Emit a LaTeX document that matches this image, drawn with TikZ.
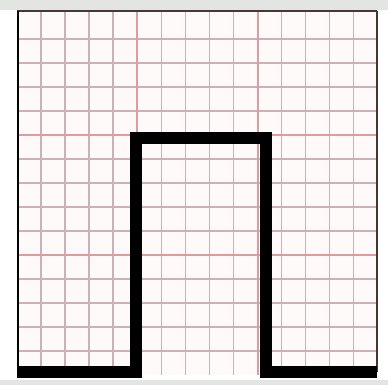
\documentclass[tikz,border=0pt]{standalone}
\definecolor{outgrey}{RGB}{226,229,226}
\definecolor{paper}{RGB}{255,250,250}
\definecolor{minorline}{RGB}{205,175,182}
\definecolor{majorline}{RGB}{224,155,162}
\definecolor{framedark}{RGB}{70,55,55}
\tikzset{
  minorgrid/.style={draw=minorline,line width=1.3pt},
  majorgrid/.style={draw=majorline,line width=2pt},
  frameline/.style={draw=framedark,line width=2pt},
  pulse/.style={draw=black,line width=12.5pt,line join=miter,line cap=butt}
}
\begin{document}
\begin{tikzpicture}[x=1pt,y=-1pt]
\useasboundingbox (0,0) rectangle (388,385);
\fill[white] (0,0) rectangle (388,385);
\fill[outgrey] (0,0) rectangle (388,10);
\fill[outgrey] (0,380) rectangle (388,385);
\fill[paper] (17,11) rectangle (377,375);
% minor grid
\foreach \i in {1,2,3,4,6,7,8,9,11,12,13,14} {
  \draw[minorgrid] ({16.8+24.07*\i},11) -- ({16.8+24.07*\i},375);
  \draw[minorgrid] (17,{15+24*\i}) -- (377,{15+24*\i});
}
% major grid
\foreach \i in {5,10} {
  \draw[majorgrid] ({16.8+24.07*\i},11) -- ({16.8+24.07*\i},375);
  \draw[majorgrid] (17,{15+24*\i}) -- (377,{15+24*\i});
}
% frame
\draw[frameline] (17,11) -- (377,11);
\draw[frameline,draw=black] (17.5,11) -- (17.5,372);
\draw[frameline] (376.5,11) -- (376.5,372);
% calibration pulse
\coordinate (s) at (17,372);
\coordinate (a) at (136,372);
\coordinate (b) at (136,138);
\coordinate (c) at (266,138);
\coordinate (d) at (266,372);
\coordinate (e) at (377,372);
\draw[pulse] (s) -- (a) -- (b) -- (c) -- (d) -- (e);
\end{tikzpicture}
\end{document}
